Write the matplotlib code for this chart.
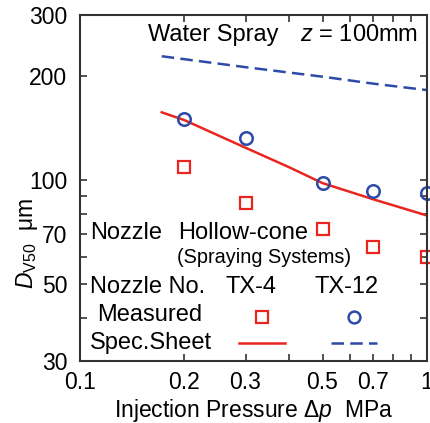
import numpy as np
import matplotlib
matplotlib.use('Agg')
import matplotlib.pyplot as plt
from matplotlib.ticker import FixedLocator, NullFormatter

plt.rcParams['font.family'] = ['Liberation Sans', 'DejaVu Sans']
plt.rcParams['mathtext.fontset'] = 'custom'
plt.rcParams['mathtext.rm'] = 'Liberation Sans'
plt.rcParams['mathtext.it'] = 'Liberation Sans:italic'

# Measured data
p_meas = [0.2, 0.3, 0.5, 0.7, 1.0]
d_tx4 = [109, 86, 72, 64, 60]        # squares
d_tx12 = [150, 132, 98, 93, 92]      # circles

# Spec. sheet curves
p_spec4 = [0.172, 0.2, 0.3, 0.4, 0.5, 0.7, 1.0]
d_spec4 = [157, 149, 124, 109, 98, 88, 79]
p_spec12 = [0.172, 0.3, 0.5, 0.7, 1.0]
d_spec12 = [228, 212, 199, 190, 182]

x_major = [0.1, 0.2, 0.3, 0.5, 0.7, 1.0]
x_labels = ['0.1', '0.2', '0.3', '0.5', '0.7', '1']
x_minor = [0.4, 0.6, 0.8, 0.9]
y_major = [30, 50, 70, 100, 200, 300]
y_labels = ['30', '50', '70', '100', '200', '300']
y_minor = [40, 60, 80, 90]

red = '#e8261f'
blue = '#2d4aa8'
dark = '#333333'

fig = plt.figure(figsize=(4.3, 4.23), dpi=100)
ax = fig.add_axes([80/430, 62/423, 347/430, 346/423])
ax.set_xscale('log')
ax.set_yscale('log')
ax.set_xlim(0.1, 1.0)
ax.set_ylim(30, 300)

ax.plot(p_spec4, d_spec4, '-', color=red, lw=1.8)
ax.plot(p_spec12, d_spec12, '--', color=blue, lw=1.8, dashes=(5, 2.5))
ax.plot(p_meas, d_tx4, 's', ms=8.5, mfc='none', mec=red, mew=1.6, clip_on=False)
ax.plot(p_meas, d_tx12, 'o', ms=9, mfc='none', mec=blue, mew=1.8, clip_on=False)

ax.xaxis.set_major_locator(FixedLocator(x_major))
ax.xaxis.set_minor_locator(FixedLocator(x_minor))
ax.set_xticklabels(x_labels)
ax.xaxis.set_minor_formatter(NullFormatter())
ax.yaxis.set_major_locator(FixedLocator(y_major))
ax.yaxis.set_minor_locator(FixedLocator(y_minor))
ax.set_yticklabels(y_labels)
ax.yaxis.set_minor_formatter(NullFormatter())

ax.tick_params(which='both', direction='in', top=True, right=True,
               length=5, width=1.2, color=dark, labelsize=16.5, pad=9)
ax.tick_params(axis='x', pad=7)
for s in ax.spines.values():
    s.set_color(dark)
    s.set_linewidth(1.5)

ax.set_xlabel(r'Injection Pressure $\Delta p$  MPa', fontsize=16.5, labelpad=2)
ax.set_ylabel(r'$D_{\rm V50}$  μm', fontsize=16.5)
ax.yaxis.set_label_coords(-0.115, 0.34)

fs = 17
ax.text(0.196, 0.942, 'Water Spray', transform=ax.transAxes, fontsize=fs, va='center')
ax.text(0.634, 0.942, r'$z$ = 100mm', transform=ax.transAxes, fontsize=fs, va='center')
ax.text(0.029, 0.37, 'Nozzle', transform=ax.transAxes, fontsize=fs, va='center')
ax.text(0.283, 0.37, 'Hollow-cone', transform=ax.transAxes, fontsize=fs, va='center')
ax.text(0.28, 0.298, '(Spraying Systems)', transform=ax.transAxes, fontsize=14.3,
        va='center')
ax.text(0.029, 0.214, 'Nozzle No.', transform=ax.transAxes, fontsize=fs, va='center')
ax.text(0.493, 0.214, 'TX-4', transform=ax.transAxes, fontsize=fs, va='center', ha='center')
ax.text(0.769, 0.214, 'TX-12', transform=ax.transAxes, fontsize=fs, va='center', ha='center')
ax.text(0.049, 0.133, 'Measured', transform=ax.transAxes, fontsize=fs, va='center')
ax.text(0.029, 0.052, 'Spec.Sheet', transform=ax.transAxes, fontsize=fs, va='center')

# legend keys
ax.plot([0.524], [0.127], 's', ms=8.5, mfc='none', mec=red, mew=1.6, transform=ax.transAxes)
ax.plot([0.790], [0.127], 'o', ms=8.5, mfc='none', mec=blue, mew=1.8, transform=ax.transAxes)
ax.plot([0.458, 0.590], [0.052, 0.052], '-', color=red, lw=1.8, transform=ax.transAxes)
ax.plot([0.723, 0.856], [0.052, 0.052], '--', color=blue, lw=1.8, dashes=(5, 2.5),
        transform=ax.transAxes)

fig.savefig('out.png', dpi=100)
